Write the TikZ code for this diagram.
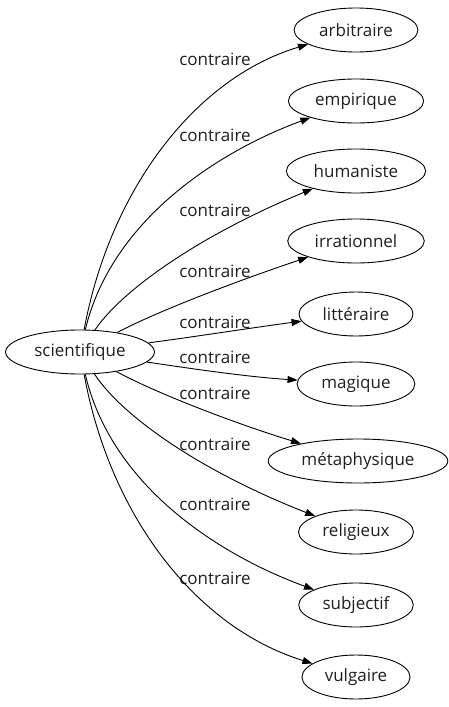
\documentclass[tikz,border=0pt]{standalone}
\usepackage{fontspec}
\setmainfont{Open Sans}
\usetikzlibrary{shapes.geometric, arrows.meta}
\tikzset{
    word/.style={ellipse, draw=black, line width=0.9pt, minimum height=44pt, inner xsep=7pt, inner ysep=2pt, font=\fontsize{17}{20}\selectfont, text=black!88},
    rel/.style={font=\fontsize{17}{20}\selectfont, text=black!88, inner sep=0pt},
    arrow/.style={line width=0.9pt, -{Triangle[length=10pt, width=7pt]}}
}
\begin{document}
\begin{tikzpicture}[x=1pt, y=-1pt]
    \useasboundingbox (0,0) rectangle (449,707);
    % Source
    \node (sci) [word] at (80,352) {scientifique};

    % Targets
    \node (arb) [word] at (356,30) {arbitraire};
    \node (emp) [word] at (356,101) {empirique};
    \node (hum) [word] at (356,171) {humaniste};
    \node (irr) [word] at (356,241) {irrationnel};
    \node (lit) [word] at (356,314) {littéraire};
    \node (mag) [word] at (356,384) {magique};
    \node (met) [word] at (358,461) {métaphysique};
    \node (rel) [word] at (356,532) {religieux};
    \node (sub) [word] at (356,605) {subjectif};
    \node (vul) [word] at (356,677) {vulgaire};

    % Labels
    \node (l1) [rel] at (215,59) {contraire};
    \node (l2) [rel] at (215,135) {contraire};
    \node (l3) [rel] at (215,210) {contraire};
    \node (l4) [rel] at (215,271) {contraire};
    \node (l5) [rel] at (215,322) {contraire};
    \node (l6) [rel] at (215,357) {contraire};
    \node (l7) [rel] at (215,393) {contraire};
    \node (l8) [rel] at (215,444) {contraire};
    \node (l9) [rel] at (215,504) {contraire};
    \node (l10) [rel] at (215,578) {contraire};

    % Edges
    \draw [arrow] (sci) .. controls (110,190) and (195,78) .. (arb);
    \draw [arrow] (sci) .. controls (112,218) and (222,150) .. (emp);
    \draw [arrow] (sci) .. controls (122,290) and (200,235) .. (hum);
    \draw [arrow] (sci) .. controls (160,310) and (240,280) .. (irr);
    \draw [arrow] (sci) .. controls (200,336) and (250,328) .. (lit);
    \draw [arrow] (sci) .. controls (200,370) and (250,377) .. (mag);
    \draw [arrow] (sci) .. controls (160,395) and (240,425) .. (met);
    \draw [arrow] (sci) .. controls (122,416) and (200,471) .. (rel);
    \draw [arrow] (sci) .. controls (112,488) and (222,556) .. (sub);
    \draw [arrow] (sci) .. controls (110,515) and (195,627) .. (vul);
\end{tikzpicture}
\end{document}
